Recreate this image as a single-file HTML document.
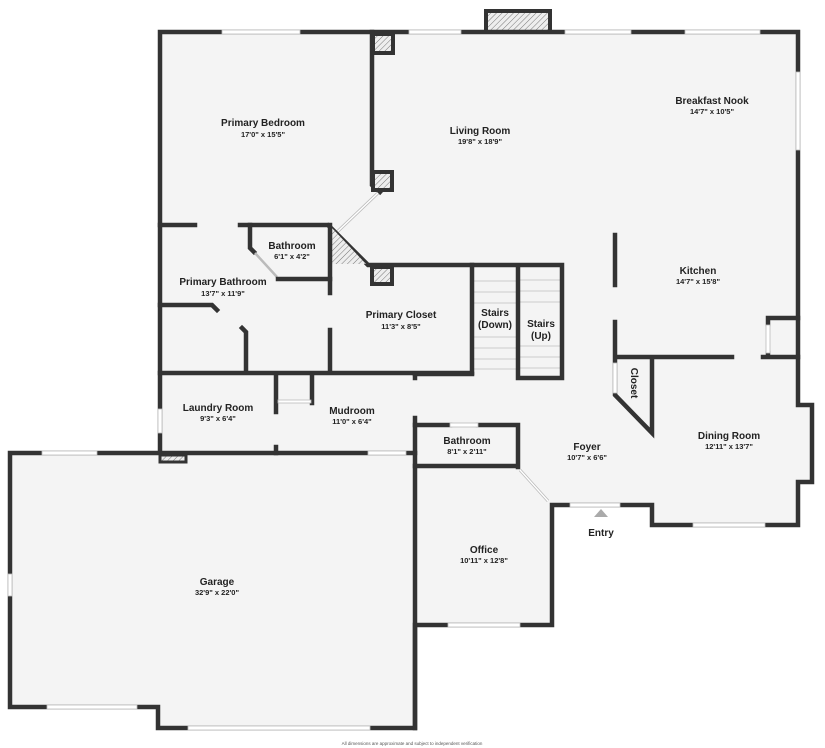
<!DOCTYPE html>
<html><head><meta charset="utf-8"><style>
html,body{margin:0;padding:0;background:#fff;}
svg{display:block;}
text{font-family:"Liberation Sans",sans-serif;fill:#222;text-anchor:middle;}
.n{font-size:10px;font-weight:bold;}
.d{font-size:7.5px;font-weight:bold;}
.w{stroke:#333;stroke-width:4.5;stroke-linecap:square;fill:none;}
.win{fill:#fff;stroke:#bbb;stroke-width:0.8;}
.st{stroke:#ccc;stroke-width:1;}
</style></head><body>
<svg width="825" height="748" viewBox="0 0 825 748" xmlns="http://www.w3.org/2000/svg">
<defs><pattern id="h" width="4" height="4" patternUnits="userSpaceOnUse" patternTransform="rotate(45)"><rect width="4" height="4" fill="#eee"/><line x1="0" y1="0" x2="0" y2="4" stroke="#777" stroke-width="1"/></pattern></defs>
<polygon points="160,32 798,32 798,405 812,405 812,482 798,482 798,525 652,525 652,505 552,505 552,625 415,625 415,728 158,728 158,707 10,707 10,453 160,453" fill="#f4f4f4"/>
<!-- stairs fill first -->
<rect x="474" y="267" width="43" height="101" fill="#f4f4f4"/>
<rect x="520" y="267" width="40" height="109" fill="#f4f4f4"/>
<g class="st">
<line x1="474" y1="281" x2="517" y2="281"/><line x1="474" y1="292" x2="517" y2="292"/><line x1="474" y1="303" x2="517" y2="303"/><line x1="474" y1="337" x2="517" y2="337"/><line x1="474" y1="348" x2="517" y2="348"/><line x1="474" y1="359" x2="517" y2="359"/><line x1="474" y1="369" x2="517" y2="369"/>
<line x1="520" y1="280" x2="560" y2="280"/><line x1="520" y1="291" x2="560" y2="291"/><line x1="520" y1="302" x2="560" y2="302"/><line x1="520" y1="346" x2="560" y2="346"/><line x1="520" y1="357" x2="560" y2="357"/><line x1="520" y1="368" x2="560" y2="368"/>
</g>
<!-- fireplace -->
<rect x="486" y="11" width="64" height="21" fill="url(#h)" stroke="#333" stroke-width="4"/>
<!-- outer walls -->
<path class="w" d="M160,32 H798 V405 H812 V482 H798 V525 H652 V505 H552 V625 H415 V728 H158 V707 H10 V453 H415 M160,453 V32"/>
<!-- windows -->
<rect class="win" x="222" y="30" width="78" height="4"/>
<rect class="win" x="409" y="30" width="52" height="4"/>
<rect class="win" x="565" y="30" width="66" height="4"/>
<rect class="win" x="685" y="30" width="75" height="4"/>
<rect class="win" x="796" y="72" width="4" height="78"/>
<rect class="win" x="693" y="523" width="72" height="4"/>
<rect class="win" x="42" y="451" width="55" height="4"/>
<rect class="win" x="368" y="451" width="38" height="4"/>
<rect class="win" x="8" y="574" width="4" height="22"/>
<rect class="win" x="47" y="705" width="90" height="4"/>
<rect class="win" x="188" y="726" width="182" height="4"/>
<rect class="win" x="158" y="409" width="4" height="24"/>
<rect class="win" x="448" y="623" width="72" height="4"/>
<rect class="win" x="570" y="503" width="50" height="4"/>
<!-- living wall and pillars -->
<path class="w" d="M372,32 V185 L380,192"/>
<rect x="373" y="34" width="20" height="19" fill="url(#h)" stroke="#333" stroke-width="4"/>
<rect x="373" y="172" width="19" height="18" fill="url(#h)" stroke="#333" stroke-width="4"/>
<line x1="378" y1="193" x2="336" y2="233" stroke="#bbb" stroke-width="3"/>
<line x1="378" y1="193" x2="336" y2="233" stroke="#fff" stroke-width="1.5"/>
<!-- primary bath area -->
<path class="w" d="M160,225 H195 M240,225 H328 L368,265 H562 V378 H518 V265"/>
<polygon points="332,228 332,264 366,264" fill="url(#h)"/>
<path class="w" d="M250,225 V248 L254,252"/>
<line x1="255" y1="253" x2="277" y2="277" stroke="#bbb" stroke-width="2.5"/>
<path class="w" d="M278,279 H330"/>
<path class="w" d="M330,225 V293 M330,330 V372"/>
<path class="w" d="M160,305 H212 L217,310"/>
<path class="w" d="M242,328 L246,332 V372"/>
<path class="w" d="M160,373 H472 V265"/>
<rect x="372" y="267" width="20" height="17" fill="url(#h)" stroke="#333" stroke-width="4"/>
<!-- laundry/mud -->
<path class="w" d="M472,374 H415 M276,375 V412 M276,447 V453 M312,375 V403"/>
<rect class="win" x="278" y="400" width="33" height="3"/>
<path class="w" d="M415,374 V378 M415,418 V728"/>
<rect x="160" y="455" width="26" height="7" fill="url(#h)" stroke="#333" stroke-width="3"/>
<!-- lower bath -->
<path class="w" d="M415,425 H450 M478,425 H518 V467 M415,466 H518"/>
<rect class="win" x="450" y="423" width="28" height="4"/>
<line x1="520" y1="470" x2="548" y2="501" stroke="#bbb" stroke-width="3"/>
<line x1="520" y1="470" x2="548" y2="501" stroke="#fff" stroke-width="1.4"/>
<!-- kitchen -->
<path class="w" d="M615,235 V285 M615,322 V395 L652,433 V357 M615,357 H732 M763,357 H798 M768,318 H798 M768,318 V324 M768,353 V357"/>
<rect class="win" x="613" y="363" width="4" height="30"/>
<rect class="win" x="766" y="325" width="4" height="28"/>
<!-- entry -->
<polygon points="594,517 601,509 608,517" fill="#aaa"/>
<!-- labels -->
<text class="n" x="263" y="126">Primary Bedroom</text><text class="d" x="263" y="137">17'0" x 15'5"</text>
<text class="n" x="480" y="134">Living Room</text><text class="d" x="480" y="144">19'8" x 18'9"</text>
<text class="n" x="712" y="104">Breakfast Nook</text><text class="d" x="712" y="114">14'7" x 10'5"</text>
<text class="n" x="292" y="249">Bathroom</text><text class="d" x="292" y="259">6'1" x 4'2"</text>
<text class="n" x="223" y="285">Primary Bathroom</text><text class="d" x="223" y="296">13'7" x 11'9"</text>
<text class="n" x="401" y="318">Primary Closet</text><text class="d" x="401" y="329">11'3" x 8'5"</text>
<text class="n" x="495" y="316">Stairs</text><text class="n" x="495" y="328">(Down)</text>
<text class="n" x="541" y="327">Stairs</text><text class="n" x="541" y="339">(Up)</text>
<text class="n" x="698" y="274">Kitchen</text><text class="d" x="698" y="284">14'7" x 15'8"</text>
<text class="n" x="634" y="383" transform="rotate(90 634 383)" dy="3">Closet</text>
<text class="n" x="218" y="411">Laundry Room</text><text class="d" x="218" y="421">9'3" x 6'4"</text>
<text class="n" x="352" y="414">Mudroom</text><text class="d" x="352" y="424">11'0" x 6'4"</text>
<text class="n" x="467" y="444">Bathroom</text><text class="d" x="467" y="454">8'1" x 2'11"</text>
<text class="n" x="587" y="450">Foyer</text><text class="d" x="587" y="460">10'7" x 6'6"</text>
<text class="n" x="729" y="439">Dining Room</text><text class="d" x="729" y="449">12'11" x 13'7"</text>
<text class="n" x="484" y="553">Office</text><text class="d" x="484" y="563">10'11" x 12'8"</text>
<text class="n" x="217" y="585">Garage</text><text class="d" x="217" y="595">32'9" x 22'0"</text>
<text class="n" x="601" y="536">Entry</text>
<text x="412" y="745" style="font-size:4.5px;fill:#555">All dimensions are approximate and subject to independent verification</text>
</svg>
</body></html>
